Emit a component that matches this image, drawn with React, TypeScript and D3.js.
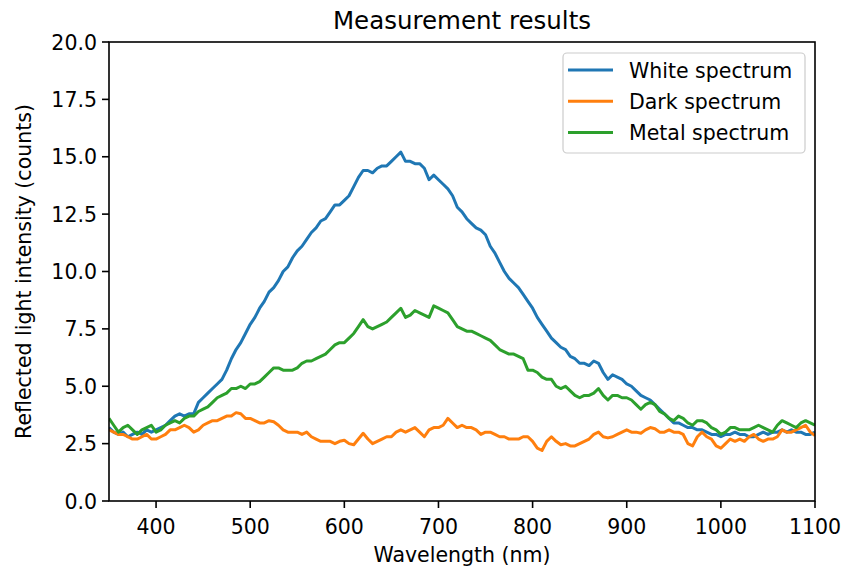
import * as d3 from "d3";

// sampled every 5 nm, 350..1100
const wavelengths = d3.range(350, 1101, 5);

const whiteSpectrum = [
  3.2, 3.0, 2.9, 3.0, 2.8, 2.9, 3.0, 2.9, 3.1, 3.0,
  3.1, 3.2, 3.3, 3.5, 3.7, 3.8, 3.7, 3.8, 3.8, 4.3,
  4.5, 4.7, 4.9, 5.1, 5.3, 5.7, 6.2, 6.6, 6.9, 7.3,
  7.7, 8.0, 8.4, 8.7, 9.1, 9.3, 9.6, 10.0, 10.2, 10.6,
  10.9, 11.1, 11.4, 11.7, 11.9, 12.2, 12.3, 12.6, 12.9, 12.9,
  13.1, 13.3, 13.7, 14.1, 14.4, 14.4, 14.3, 14.5, 14.6, 14.6,
  14.8, 15.0, 15.2, 14.8, 14.8, 14.7, 14.7, 14.5, 14.0, 14.2,
  14.0, 13.8, 13.6, 13.3, 12.8, 12.6, 12.3, 12.1, 11.9, 11.8,
  11.6, 11.1, 10.8, 10.4, 10.0, 9.7, 9.5, 9.3, 9.0, 8.7,
  8.4, 8.0, 7.7, 7.4, 7.1, 6.9, 6.7, 6.6, 6.3, 6.2,
  6.0, 6.0, 5.9, 6.1, 6.0, 5.6, 5.3, 5.5, 5.4, 5.3,
  5.1, 5.0, 4.8, 4.6, 4.5, 4.4, 4.2, 4.0, 3.8, 3.6,
  3.4, 3.4, 3.3, 3.2, 3.2, 3.1, 3.1, 3.0, 2.9, 2.9,
  2.8, 2.9, 2.9, 3.0, 2.9, 2.9, 2.8, 2.8, 2.9, 3.0,
  2.9, 3.0, 3.0, 3.1, 3.0, 3.1, 3.0, 3.0, 2.9, 2.9,
  3.0,
];

const darkSpectrum = [
  3.1, 3.0, 2.9, 2.9, 2.8, 2.7, 2.7, 2.8, 2.9, 2.7,
  2.7, 2.8, 2.9, 3.1, 3.1, 3.2, 3.3, 3.2, 3.0, 3.1,
  3.3, 3.4, 3.5, 3.5, 3.6, 3.7, 3.7, 3.85, 3.8, 3.6,
  3.6, 3.5, 3.4, 3.4, 3.5, 3.45, 3.3, 3.1, 3.0, 3.0,
  3.0, 2.9, 3.0, 2.8, 2.7, 2.6, 2.6, 2.6, 2.5, 2.6,
  2.65, 2.5, 2.45, 2.7, 2.95, 2.7, 2.5, 2.6, 2.7, 2.8,
  2.8, 3.0, 3.1, 3.0, 3.1, 3.2, 3.0, 2.8, 3.1, 3.2,
  3.2, 3.3, 3.6, 3.4, 3.2, 3.3, 3.2, 3.2, 3.1, 2.9,
  3.0, 3.0, 2.9, 2.8, 2.8, 2.7, 2.7, 2.7, 2.8, 2.8,
  2.6, 2.3, 2.2, 2.6, 2.8, 2.6, 2.45, 2.5, 2.4, 2.4,
  2.5, 2.6, 2.7, 2.9, 3.0, 2.8, 2.75, 2.8, 2.9, 3.0,
  3.1, 3.0, 3.0, 2.95, 3.1, 3.2, 3.15, 3.0, 3.0, 3.1,
  3.0, 3.0, 2.9, 2.5, 2.4, 2.8, 3.0, 2.8, 2.7, 2.4,
  2.3, 2.5, 2.7, 2.6, 2.7, 2.6, 2.8, 2.9, 2.7, 2.6,
  2.7, 2.7, 2.8, 3.1, 3.0, 3.0, 3.1, 3.2, 3.3, 3.0,
  2.85,
];

const metalSpectrum = [
  3.6, 3.3, 3.0, 3.2, 3.3, 3.1, 2.9, 3.1, 3.2, 3.3,
  3.0, 3.1, 3.3, 3.4, 3.5, 3.4, 3.6, 3.7, 3.7, 3.9,
  4.0, 4.1, 4.3, 4.5, 4.6, 4.7, 4.9, 4.9, 5.0, 4.9,
  5.1, 5.1, 5.2, 5.4, 5.6, 5.8, 5.8, 5.7, 5.7, 5.7,
  5.8, 6.0, 6.1, 6.1, 6.2, 6.3, 6.4, 6.6, 6.8, 6.9,
  6.9, 7.1, 7.3, 7.6, 7.9, 7.6, 7.5, 7.6, 7.7, 7.8,
  8.0, 8.2, 8.4, 8.0, 8.1, 8.3, 8.2, 8.1, 8.0, 8.5,
  8.4, 8.3, 8.2, 7.9, 7.6, 7.5, 7.4, 7.4, 7.3, 7.2,
  7.1, 7.0, 6.8, 6.6, 6.5, 6.4, 6.4, 6.3, 6.2, 5.7,
  5.7, 5.6, 5.4, 5.3, 5.3, 5.0, 4.9, 5.0, 4.8, 4.6,
  4.5, 4.6, 4.6, 4.7, 4.9, 4.6, 4.4, 4.6, 4.6, 4.5,
  4.5, 4.4, 4.2, 4.0, 4.2, 4.3, 4.2, 3.9, 3.8, 3.6,
  3.5, 3.7, 3.6, 3.4, 3.3, 3.5, 3.5, 3.4, 3.2, 3.1,
  2.9, 3.0, 3.2, 3.2, 3.1, 3.1, 3.1, 3.2, 3.3, 3.2,
  3.1, 3.0, 3.3, 3.5, 3.4, 3.3, 3.2, 3.4, 3.5, 3.4,
  3.3,
];

const seriesNames = ["White spectrum", "Dark spectrum", "Metal spectrum"];
const seriesColors = ["#1f77b4", "#ff7f0e", "#2ca02c"];
const xTicks = [400, 500, 600, 700, 800, 900, 1000, 1100];
const yTicks = [0, 2.5, 5, 7.5, 10, 12.5, 15, 17.5, 20];

const W = 841;
const H = 570;
const left = 109;
const right = 815;
const top = 42;
const bottom = 501;
const font = "'DejaVu Sans', sans-serif";

export default function App() {
  const x = d3.scaleLinear().domain([350, 1100]).range([left, right]);
  const y = d3.scaleLinear().domain([0, 20]).range([bottom, top]);

  const series = [whiteSpectrum, darkSpectrum, metalSpectrum];
  const line = d3
    .line<number>()
    .x((_, i) => x(wavelengths[i]))
    .y((d) => y(d));

  return (
    <svg
      width={W}
      height={H}
      style={{ position: "absolute", left: 0, top: 0, background: "#fff" }}
      fontFamily={font}
    >
      <defs>
        <clipPath id="plot">
          <rect x={left} y={top} width={right - left} height={bottom - top} />
        </clipPath>
      </defs>

      <g clipPath="url(#plot)">
        {series.map((s, i) => (
          <path
            key={seriesNames[i]}
            d={line(s) ?? ""}
            fill="none"
            stroke={seriesColors[i]}
            strokeWidth={3}
            strokeLinejoin="round"
          />
        ))}
      </g>

      {/* spines */}
      <rect
        x={left}
        y={top}
        width={right - left}
        height={bottom - top}
        fill="none"
        stroke="#000"
        strokeWidth={1.6}
      />

      {/* x axis */}
      {xTicks.map((t) => (
        <g key={t} transform={`translate(${x(t)},${bottom})`}>
          <line y2={7} stroke="#000" strokeWidth={1.6} />
          <text y={33} textAnchor="middle" fontSize={20.5} fill="#000">
            {t}
          </text>
        </g>
      ))}
      <text
        x={(left + right) / 2}
        y={562}
        textAnchor="middle"
        fontSize={20.5}
        fill="#000"
      >
        Wavelength (nm)
      </text>

      {/* y axis */}
      {yTicks.map((t) => (
        <g key={t} transform={`translate(${left},${y(t)})`}>
          <line x2={-7} stroke="#000" strokeWidth={1.6} />
          <text x={-12} y={7.5} textAnchor="end" fontSize={20.5} fill="#000">
            {t.toFixed(1)}
          </text>
        </g>
      ))}
      <text
        transform={`translate(31,${(top + bottom) / 2}) rotate(-90)`}
        textAnchor="middle"
        fontSize={20.5}
        fill="#000"
      >
        Reflected light intensity (counts)
      </text>

      {/* title */}
      <text
        x={(left + right) / 2}
        y={29}
        textAnchor="middle"
        fontSize={24.5}
        fill="#000"
      >
        Measurement results
      </text>

      {/* legend */}
      <g>
        <rect
          x={563}
          y={53}
          width={242}
          height={100}
          rx={4}
          fill="#fff"
          fillOpacity={0.8}
          stroke="#cccccc"
          strokeWidth={1.2}
        />
        {seriesNames.map((name, i) => (
          <g key={name} transform={`translate(0,${70 + i * 31.3})`}>
            <line
              x1={568}
              x2={613}
              stroke={seriesColors[i]}
              strokeWidth={3}
            />
            <text x={629} y={7.5} fontSize={20.5} fill="#000">
              {name}
            </text>
          </g>
        ))}
      </g>
    </svg>
  );
}
